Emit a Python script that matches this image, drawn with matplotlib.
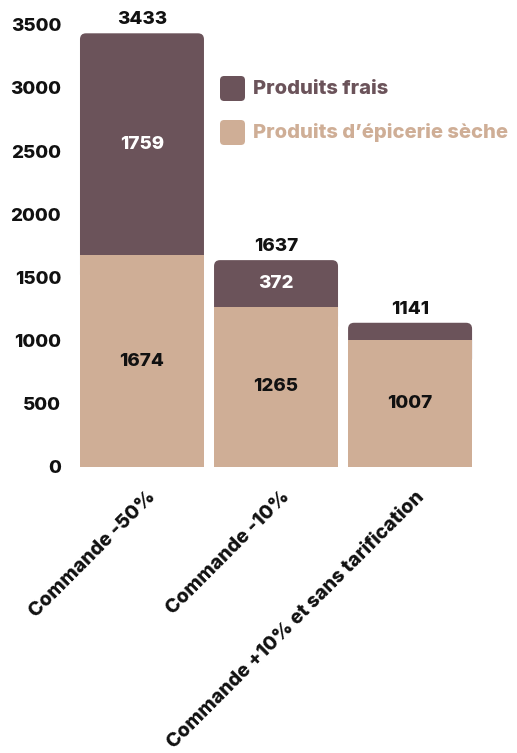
import matplotlib.pyplot as plt
import matplotlib.transforms as mtransforms
from matplotlib.patches import FancyBboxPatch, Rectangle

categories = ["Commande -50%", "Commande -10%", "Commande +10% et sans tarification"]
epicerie = [1674, 1265, 1007]
frais = [1759, 372, 134]
totals = [3433, 1637, 1141]
show_frais_label = [True, True, False]

DARK = "#6b535a"
LIGHT = "#cfae96"
W = 800  # text weight

plt.rcParams['font.family'] = ['Inter', 'DejaVu Sans']

fig = plt.figure(figsize=(5.17, 7.53), dpi=100)
ax = fig.add_axes([0.1398, 0.380, 0.928 - 0.1398, 0.967 - 0.380])
ax.set_xlim(-0.52, 2.52)
ax.set_ylim(0, 3500)

width = 0.925
# size of one pixel in data units, to keep the corners round
px_x = (2.52 + 0.52) / (0.928 - 0.1398) / 517
px_y = 3500 / (0.967 - 0.380) / 753
r = 6 * px_x

for i, cat in enumerate(categories):
    x0 = i - width / 2
    # top segment with rounded corners, extended down under the lower one
    top = FancyBboxPatch((x0, epicerie[i] - 200), width, frais[i] + 200,
                         boxstyle=f"round,pad=0,rounding_size={r}",
                         mutation_aspect=px_y / px_x,
                         facecolor=DARK, edgecolor="none", zorder=2)
    ax.add_patch(top)
    ax.add_patch(Rectangle((x0, 0), width, epicerie[i], facecolor=LIGHT,
                           edgecolor="none", zorder=3))

    ax.text(i, epicerie[i] / 2, str(epicerie[i]), ha="center", va="center",
            fontsize=13.5, fontweight=W, color="#111111", zorder=4)
    if show_frais_label[i]:
        ax.text(i, epicerie[i] + frais[i] / 2, str(frais[i]), ha="center",
                va="center", fontsize=13.5, fontweight=W, color="white", zorder=4)
    ax.text(i, totals[i] + 40, str(totals[i]), ha="center", va="bottom",
            fontsize=13.5, fontweight=W, color="#111111", clip_on=False)

ax.set_yticks([0, 500, 1000, 1500, 2000, 2500, 3000, 3500])
ax.set_yticklabels([str(v) for v in ax.get_yticks().astype(int)],
                   fontsize=13.5, fontweight=W, color="#111111")
ax.set_xticks(range(len(categories)))
ax.set_xticklabels([])

# category labels placed by hand so the offset sticks
offset = mtransforms.ScaledTranslation(5 / 100, -21 / 100, fig.dpi_scale_trans)
for i, cat in enumerate(categories):
    ax.text(i, 0, cat, rotation=45, ha="right", va="top", rotation_mode="anchor",
            fontsize=14, fontweight=W, color="#111111", clip_on=False,
            transform=ax.get_xaxis_transform() + offset)

ax.tick_params(length=0, pad=8)
for s in ax.spines.values():
    s.set_visible(False)

# legend drawn by hand: rounded squares + coloured text
for j, (name, col) in enumerate([("Produits frais", DARK),
                                 ("Produits d’épicerie sèche", LIGHT)]):
    yc = 1 - (89 + 44 * j) / 753
    fig.patches.append(FancyBboxPatch((220 / 517, yc - 12 / 753), 25 / 517, 25 / 753,
                                      boxstyle="round,pad=0,rounding_size=0.008",
                                      mutation_aspect=517 / 753,
                                      transform=fig.transFigure,
                                      facecolor=col, edgecolor="none"))
    fig.text(253 / 517, yc, name, ha="left", va="center", fontsize=14.5,
             fontweight=W, color=col)

fig.savefig("out.png", dpi=100)
